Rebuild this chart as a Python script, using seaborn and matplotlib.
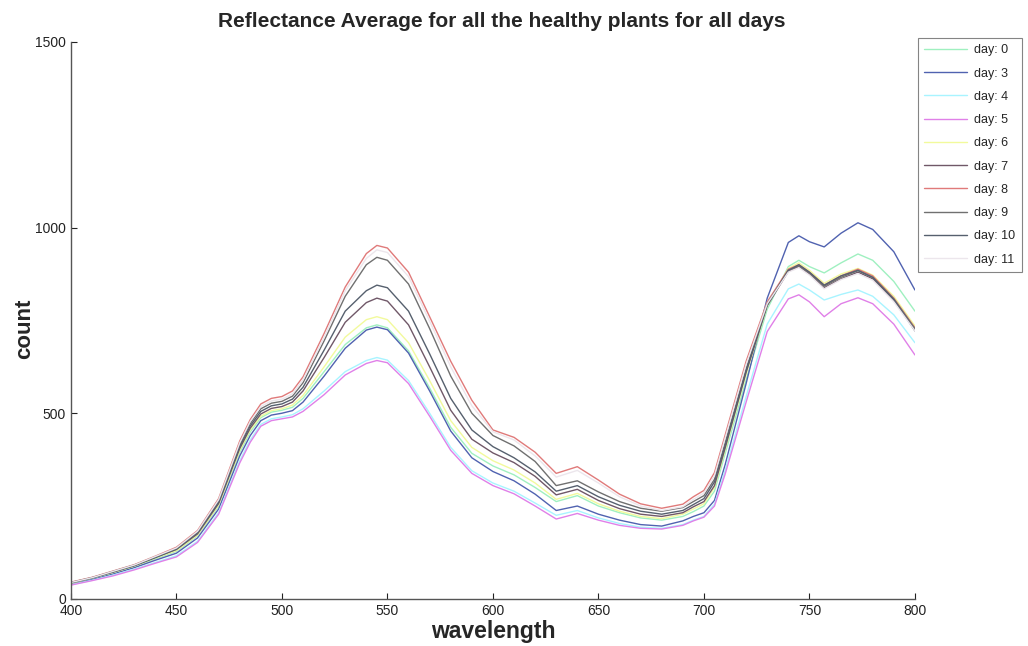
import numpy as np
import pandas as pd
import matplotlib
matplotlib.use("Agg")
import matplotlib.pyplot as plt
import seaborn as sns

wavelength = [400, 410, 420, 430, 440, 450, 460, 470, 480, 485, 490, 495, 500, 505, 510,
              520, 530, 540, 545, 550, 560, 570, 580, 590, 600, 610, 620, 630, 640, 650,
              660, 670, 680, 690, 695, 700, 705, 710, 720, 730, 740, 745, 750, 757, 765,
              773, 780, 790, 800]

day0 = [42, 55, 70, 87, 108, 128, 170, 250, 395, 450, 488, 503, 508, 516, 540, 612, 685, 730, 738, 730,
        668, 568, 462, 392, 358, 334, 300, 262, 278, 250, 232, 218, 212, 222, 235, 250, 290, 390, 590, 780,
        895, 912, 895, 878, 905, 929, 912, 855, 775]
day3 = [40, 52, 67, 84, 104, 123, 164, 242, 385, 440, 480, 495, 500, 507, 530, 600, 675, 724, 732, 725,
        662, 560, 452, 380, 343, 318, 282, 238, 250, 228, 212, 200, 196, 210, 222, 232, 265, 360, 580, 810,
        960, 978, 962, 948, 985, 1013, 995, 935, 832]
day4 = [38, 50, 64, 80, 98, 116, 155, 232, 372, 428, 470, 485, 490, 496, 512, 560, 612, 642, 650, 643,
        588, 500, 408, 345, 312, 290, 258, 225, 238, 218, 203, 193, 190, 200, 212, 222, 255, 345, 545, 740,
        835, 848, 832, 805, 820, 832, 815, 765, 690]
day5 = [37, 49, 62, 78, 96, 113, 152, 228, 366, 422, 465, 480, 485, 490, 505, 550, 603, 634, 642, 636,
        580, 492, 400, 338, 305, 283, 250, 215, 230, 212, 198, 190, 188, 198, 210, 220, 250, 335, 530, 720,
        808, 819, 800, 760, 795, 811, 795, 740, 657]
day6 = [42, 56, 71, 88, 110, 130, 172, 253, 400, 455, 492, 507, 512, 522, 548, 625, 705, 752, 760, 752,
        690, 588, 480, 408, 372, 347, 312, 268, 284, 256, 236, 222, 216, 228, 242, 256, 300, 400, 605, 790,
        890, 905, 885, 850, 875, 890, 872, 815, 735]
day7 = [44, 57, 73, 90, 112, 133, 175, 257, 405, 460, 498, 513, 518, 530, 560, 650, 745, 798, 810, 802,
        738, 625, 508, 430, 393, 367, 330, 280, 295, 265, 243, 228, 222, 232, 248, 262, 305, 405, 610, 790,
        882, 895, 875, 838, 862, 880, 862, 805, 725]
day8 = [45, 58, 75, 92, 115, 139, 184, 270, 425, 483, 525, 540, 545, 560, 598, 715, 840, 930, 952, 945,
        880, 760, 640, 535, 455, 435, 395, 338, 356, 320, 282, 256, 244, 255, 275, 292, 340, 440, 640, 800,
        888, 900, 880, 845, 870, 888, 870, 810, 730]
day9 = [44, 57, 74, 91, 113, 136, 180, 264, 415, 472, 512, 527, 532, 546, 582, 695, 815, 900, 920, 912,
        848, 728, 600, 500, 440, 412, 370, 305, 318, 288, 262, 244, 236, 246, 262, 278, 322, 420, 620, 795,
        885, 897, 878, 842, 866, 884, 866, 808, 728]
day10 = [43, 56, 72, 89, 111, 134, 178, 260, 410, 466, 505, 520, 525, 538, 570, 670, 775, 830, 845, 838,
         775, 660, 540, 455, 410, 380, 342, 290, 305, 275, 252, 236, 228, 238, 254, 270, 315, 412, 615, 792,
         885, 900, 880, 845, 870, 885, 866, 806, 722]
day11 = [44, 57, 74, 91, 114, 137, 182, 267, 420, 478, 518, 533, 538, 552, 590, 705, 830, 917, 940, 933,
         868, 748, 625, 520, 450, 428, 385, 328, 346, 312, 275, 250, 238, 248, 268, 285, 332, 432, 632, 795,
         880, 892, 872, 835, 860, 876, 858, 800, 722]

day_labels = ["day: 0", "day: 3", "day: 4", "day: 5", "day: 6", "day: 7",
              "day: 8", "day: 9", "day: 10", "day: 11"]
series = [day0, day3, day4, day5, day6, day7, day8, day9, day10, day11]
colors = ["#9ff0c0", "#5062b0", "#a8f4ff", "#e080e8", "#f2fa9c", "#705868",
          "#e07a7a", "#707070", "#56606e", "#ece6ec"]

frames = []
for lab, vals in zip(day_labels, series):
    frames.append(pd.DataFrame({"wavelength": wavelength, "count": vals, "day": lab}))
df = pd.concat(frames, ignore_index=True)

sns.set_style("white")
plt.rcParams['font.family'] = ['Liberation Sans', 'DejaVu Sans']

fig = plt.figure(figsize=(10.28, 6.46), dpi=100)
ax = fig.add_axes([0.069, 0.073, 0.821, 0.862])

sns.lineplot(data=df, x="wavelength", y="count", hue="day", hue_order=day_labels,
             palette=colors, linewidth=1.0, ax=ax, legend=True, estimator=None, sort=False)

ax.set_xlim(400, 800)
ax.set_ylim(0, 1500)
ax.set_xticks([400, 450, 500, 550, 600, 650, 700, 750, 800])
ax.set_yticks([0, 500, 1000, 1500])
ax.tick_params(direction='in', length=4, width=0.8, labelsize=10, colors='#222222',
               bottom=True, left=True)
for s in ['top', 'right']:
    ax.spines[s].set_visible(False)
for s in ['left', 'bottom']:
    ax.spines[s].set_color('#555555')
    ax.spines[s].set_linewidth(1.0)

ax.set_xlabel("wavelength", fontsize=16.5, fontweight='bold', labelpad=2)
ax.set_ylabel("count", fontsize=16, fontweight='bold')
ax.yaxis.set_label_coords(-0.042, 0.485)
ax.set_title("Reflectance Average for all the healthy plants for all days",
             fontsize=15, fontweight='bold', pad=11, x=0.51)

leg = ax.legend(loc='upper left', bbox_to_anchor=(0.893, 0.941), bbox_transform=fig.transFigure,
                fontsize=9, frameon=True, fancybox=False, edgecolor='#666666', borderaxespad=0,
                handlelength=3.4, labelspacing=0.9, borderpad=0.5, handletextpad=0.6)
leg.get_frame().set_linewidth(0.8)

fig.savefig("out.png", dpi=100)
